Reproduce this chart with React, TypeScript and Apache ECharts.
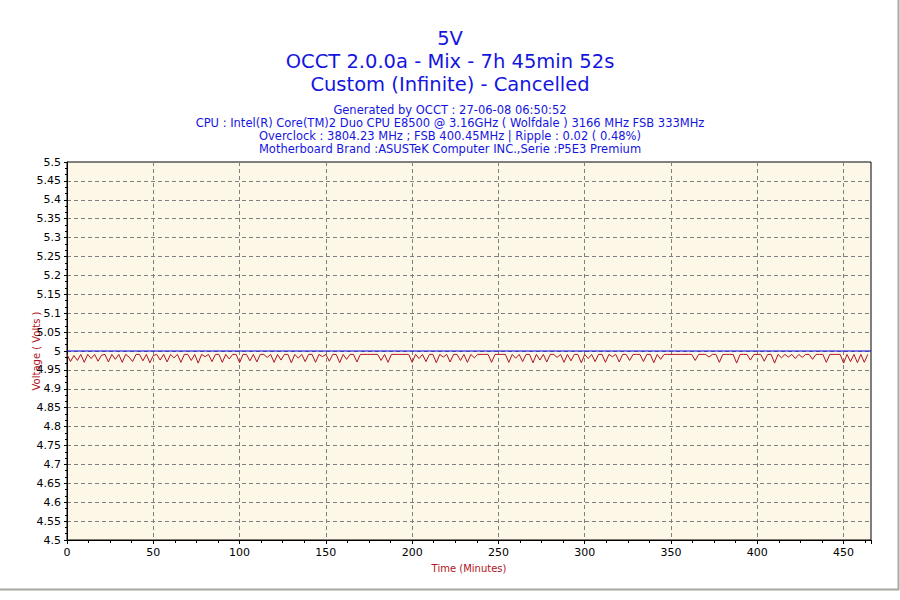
import React, { useEffect, useRef } from "react";
import * as echarts from "echarts";

const titleLines = ["5V", "OCCT 2.0.0a - Mix - 7h 45min 52s", "Custom (Infinite) - Cancelled"];
const infoLines = [
  "Generated by OCCT : 27-06-08 06:50:52",
  "CPU : Intel(R) Core(TM)2 Duo CPU E8500 @ 3.16GHz ( Wolfdale ) 3166 MHz FSB 333MHz",
  "Overclock : 3804.23 MHz ; FSB 400.45MHz | Ripple : 0.02 ( 0.48%)",
  "Motherboard Brand :ASUSTeK Computer INC.,Serie :P5E3 Premium",
];
const xAxisName = "Time (Minutes)";
const yAxisName = "Voltage ( Volts )";
const durationMin = 465.87;
const sampleStepMin = 2;
const nominalVolts = 5;

const voltage5V = [
  4.991, 4.972, 4.988, 4.975, 4.991, 4.970, 4.991, 4.980, 4.991, 4.973,
  4.989, 4.991, 4.971, 4.991, 4.978, 4.991, 4.970, 4.991, 4.984, 4.972,
  4.991, 4.991, 4.974, 4.991, 4.969, 4.988, 4.991, 4.976, 4.991, 4.971,
  4.991, 4.982, 4.991, 4.970, 4.991, 4.991, 4.975, 4.991, 4.968, 4.991,
  4.985, 4.991, 4.972, 4.991, 4.991, 4.970, 4.991, 4.979, 4.991, 4.991,
  4.969, 4.991, 4.991, 4.974, 4.991, 4.971, 4.991, 4.991, 4.983, 4.991,
  4.970, 4.991, 4.976, 4.991, 4.991, 4.969, 4.991, 4.981, 4.991, 4.972,
  4.991, 4.991, 4.970, 4.991, 4.985, 4.991, 4.973, 4.991, 4.991, 4.969,
  4.991, 4.978, 4.991, 4.991, 4.971, 4.991, 4.991, 4.991,
  4.991, 4.991, 4.991,
  4.975, 4.991, 4.970, 4.991, 4.991,
  4.991, 4.991, 4.991, 4.991,
  4.970, 4.991, 4.980, 4.991, 4.972, 4.991, 4.991, 4.969, 4.991, 4.984,
  4.991, 4.971, 4.991, 4.991, 4.975, 4.991, 4.970, 4.991, 4.982, 4.991,
  4.991, 4.991, 4.991,
  4.970, 4.991,
  4.991, 4.991, 4.991,
  4.970, 4.991, 4.981, 4.991, 4.972, 4.991, 4.991, 4.969, 4.991, 4.976,
  4.991, 4.971, 4.991, 4.991, 4.983, 4.991, 4.970, 4.991, 4.974, 4.991,
  4.991, 4.969, 4.991, 4.980, 4.991, 4.972, 4.991, 4.991, 4.970, 4.991,
  4.985, 4.991, 4.971, 4.991, 4.991, 4.975, 4.991, 4.991, 4.991, 4.972,
  4.991, 4.991, 4.969, 4.991, 4.978, 4.991, 4.991,
  4.991, 4.991, 4.991, 4.991, 4.991, 4.991, 4.991,
  4.975,
  4.991, 4.991, 4.991, 4.984, 4.991, 4.991,
  4.970,
  4.991, 4.991, 4.991, 4.991,
  4.968,
  4.991, 4.991, 4.991,
  4.976,
  4.991, 4.991, 4.991,
  4.973,
  4.991, 4.991,
  4.968,
  4.991, 4.982, 4.991, 4.984, 4.991, 4.980, 4.991, 4.983, 4.991, 4.991,
  4.978, 4.991, 4.991,
  4.991,
  4.970,
  4.991, 4.991, 4.991, 4.991,
  4.968, 4.991, 4.972, 4.991, 4.969, 4.991, 4.970, 4.991,
];

const FONT = "DejaVu Sans";
const BLUE = "#1515E0";
const RED = "#B0141C";

export default function App() {
  const ref = useRef<HTMLDivElement>(null);
  useEffect(() => {
    if (!ref.current) return;
    const chart = echarts.init(ref.current, null, { renderer: "svg" });
    const seriesData = voltage5V.map((v, i) => [i * sampleStepMin, v]);
    const titleTops = [28, 51, 74];
    const infoTops = [104, 117, 130, 143];
    const titles: any[] = [];
    titleLines.forEach((t, i) =>
      titles.push({
        text: t,
        left: "center",
        top: titleTops[i],
        padding: 0,
        textStyle: { color: BLUE, fontFamily: FONT, fontSize: 19.5, fontWeight: "normal" },
      })
    );
    infoLines.forEach((t, i) =>
      titles.push({
        text: t,
        left: "center",
        top: infoTops[i],
        padding: 0,
        textStyle: { color: BLUE, fontFamily: FONT, fontSize: 11.5, fontWeight: "normal" },
      })
    );
    chart.setOption({
      animation: false,
      backgroundColor: "#FFFFFF",
      title: titles,
      grid: {
        left: 67,
        right: 29,
        top: 162,
        bottom: 60,
        show: true,
        backgroundColor: "#FDF7E8",
        borderColor: "#000000",
        borderWidth: 1,
      },
      graphic: [
        { type: "line", shape: { x1: 898.5, y1: 0, x2: 898.5, y2: 590 }, style: { stroke: "#A8A8A0", lineWidth: 2 } },
        { type: "line", shape: { x1: 0, y1: 589.5, x2: 899, y2: 589.5 }, style: { stroke: "#A8A8A0", lineWidth: 2 } },
      ],
      xAxis: {
        type: "value",
        min: 0,
        max: durationMin,
        interval: 50,
        name: xAxisName,
        nameLocation: "middle",
        nameGap: 23,
        nameMoveOverlap: false,
        nameTextStyle: { color: RED, fontFamily: FONT, fontSize: 10 },
        axisLine: { show: true, lineStyle: { color: "#000", width: 1 } },
        axisTick: { show: true, length: 4, lineStyle: { color: "#000" } },
        minorTick: { show: true, splitNumber: 4, length: 3, lineStyle: { color: "#000" } },
        axisLabel: { color: "#000", fontFamily: FONT, fontSize: 11, margin: 7, showMaxLabel: false },
        splitLine: { show: true, lineStyle: { color: "#808080", type: [4, 3], width: 1 } },
      },
      yAxis: {
        type: "value",
        min: 4.5,
        max: 5.5,
        interval: 0.05,
        name: yAxisName,
        nameLocation: "middle",
        nameGap: 26,
        nameMoveOverlap: false,
        nameTextStyle: { color: RED, fontFamily: FONT, fontSize: 10 },
        axisLine: { show: true, lineStyle: { color: "#000", width: 1 } },
        axisTick: { show: true, length: 3, lineStyle: { color: "#000" } },
        minorTick: { show: true, splitNumber: 3, length: 2, lineStyle: { color: "#000" } },
        axisLabel: {
          color: "#000",
          fontFamily: FONT,
          fontSize: 11,
          margin: 6,
          formatter: (v: number) => String(parseFloat(v.toFixed(2))),
        },
        splitLine: { show: true, lineStyle: { color: "#808080", type: [4, 3], width: 1 } },
      },
      series: [
        {
          type: "line",
          data: [
            [0, nominalVolts],
            [durationMin, nominalVolts],
          ],
          showSymbol: false,
          silent: true,
          lineStyle: { color: "#0000E6", width: 1.2 },
          itemStyle: { color: "#0000E6" },
          z: 3,
        },
        {
          type: "line",
          data: seriesData,
          showSymbol: false,
          lineStyle: { color: RED, width: 1 },
          itemStyle: { color: RED },
          z: 2,
        },
      ],
    });
    return () => chart.dispose();
  }, []);
  return <div ref={ref} style={{ position: "absolute", left: 0, top: 0, width: 900, height: 600 }} />;
}
